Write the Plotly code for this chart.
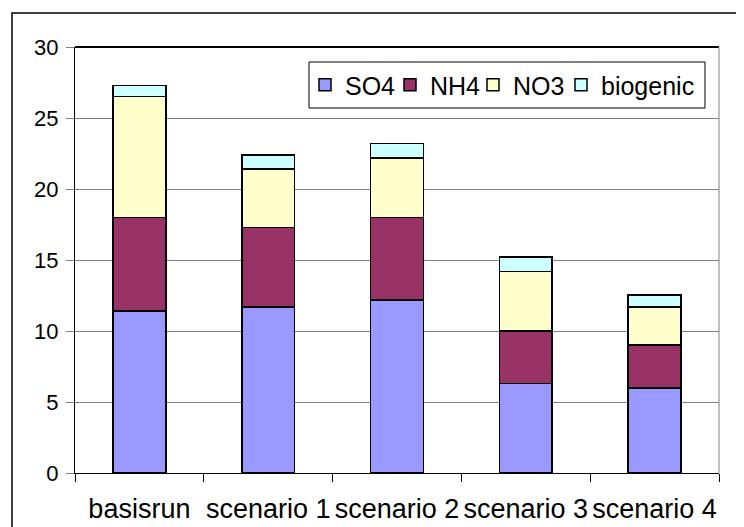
import plotly.graph_objects as go

categories = ["basisrun", "scenario 1", "scenario 2", "scenario 3", "scenario 4"]
so4 = [11.4, 11.7, 12.2, 6.3, 6.0]
nh4 = [6.6, 5.6, 5.8, 3.7, 3.0]
no3 = [8.5, 4.1, 4.2, 4.2, 2.7]
biogenic = [0.8, 1.0, 1.0, 1.0, 0.85]
series_names = ["SO4", "NH4", "NO3", "biogenic"]
series_values = [so4, nh4, no3, biogenic]
colors = ["#9999FF", "#993366", "#FFFFCC", "#CCFFFF"]
legend_ids = ["legend", "legend2", "legend3", "legend4"]
legend_left_px = [305, 390, 473, 561]
y_ticks = [0, 5, 10, 15, 20, 25, 30]

FONT = "Liberation Sans, Arial, sans-serif"

fig = go.Figure()
for name, vals, col, lg in zip(series_names, series_values, colors, legend_ids):
    fig.add_trace(go.Bar(
        x=categories, y=vals, name=name, legend=lg,
        marker=dict(color=col, line=dict(color="black", width=1.5)),
        width=0.41,
    ))

# page body has an 8px margin; work in page pixel coordinates
OFF = 8
PAGE_W, PAGE_H = 744, 527
W, H = PAGE_W - OFF, PAGE_H - OFF
PL, PR, PT, PB = 75, 719, 47, 473  # plot area in page pixels
L, T = PL - OFF, PT - OFF
R = PAGE_W - PR
B = PAGE_H - PB
pw, ph = PR - PL, PB - PT

def px_x(p):
    return (p - PL) / pw

def px_y(p):
    return (PB - p) / ph

legend_common = dict(
    orientation="h", xanchor="left", yanchor="top",
    borderwidth=0, font=dict(size=25), itemwidth=30,
    traceorder="normal", bgcolor="rgba(0,0,0,0)",
)

legends = {
    lg: dict(x=px_x(lx), y=px_y(62), **legend_common)
    for lg, lx in zip(legend_ids, legend_left_px)
}

fig.update_layout(
    barmode="stack",
    width=W, height=H,
    margin=dict(l=L, r=R, t=T, b=B, pad=0),
    paper_bgcolor="white", plot_bgcolor="white",
    font=dict(family=FONT, size=22, color="black"),
    showlegend=True,
    xaxis=dict(
        type="category",
        tickson="boundaries",
        ticks="outside", ticklen=8, tickcolor="black",
        showline=True, linecolor="black", linewidth=1,
        showgrid=False,
        tickangle=0, automargin=False,
        ticklabelstandoff=12,
        tickfont=dict(size=27),
    ),
    yaxis=dict(
        range=[0, 30],
        tickvals=y_ticks,
        ticks="outside", ticklen=8, tickcolor="#808080",
        showline=True, linecolor="black", linewidth=1,
        showgrid=True, gridcolor="#808080", gridwidth=1,
        zeroline=False, automargin=False,
        tickfont=dict(size=22),
        ticklabelstandoff=3,
    ),
    **legends,
)

# plot area border (top black, right grey)
fig.add_shape(type="line", xref="paper", yref="paper", x0=0, x1=1, y0=1, y1=1,
              line=dict(color="black", width=2))
fig.add_shape(type="line", xref="paper", yref="paper", x0=1, x1=1, y0=0, y1=1,
              line=dict(color="#808080", width=1))
# legend frame
fig.add_shape(type="rect", xref="paper", yref="paper",
              x0=px_x(309), x1=px_x(705), y0=px_y(108), y1=px_y(62),
              line=dict(color="black", width=1))
# outer chart frame
fig.add_shape(type="rect", xref="paper", yref="paper",
              x0=px_x(12), x1=px_x(780), y0=px_y(580), y1=px_y(13),
              line=dict(color="black", width=1.5), layer="below")

fig.write_html("out.html")
